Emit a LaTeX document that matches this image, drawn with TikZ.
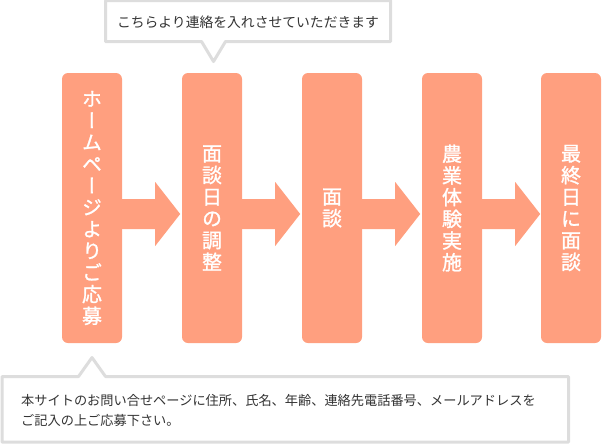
\documentclass[tikz,border=0pt]{standalone}
\usepackage{fontspec}
\setmainfont{Noto Sans CJK JP}
\newfontfamily\stepfont[RawFeature=+vert,FakeBold=1.2]{Noto Sans CJK JP}
\usepackage{tkz-euclide}
\usetikzlibrary{calc}
\definecolor{StepClr}{RGB}{255,159,127}
\definecolor{FrameClr}{RGB}{221,221,221}
\definecolor{NoteClr}{RGB}{51,51,51}
\tikzset{
  stepbox/.style={fill=StepClr,rounded corners=6pt,minimum width=60pt,minimum height=270pt,
    inner sep=0pt,text=white,align=center,font=\stepfont\fontsize{20}{21.7}\selectfont},
  notetext/.style={text=NoteClr,inner sep=0pt,align=left}
}

\begin{document}
\begin{tikzpicture}[x=1pt,y=-1pt]
\useasboundingbox (0,0) rectangle (602,445);
\tkzSetUpLine[line width=3pt,color=FrameClr]

\node[stepbox] (s1) at (92,208) {ホ\\ー\\ム\\ペ\\ー\\ジ\\よ\\り\\ご\\応\\募};
\node[stepbox] (s2) at (212,208) {面\\談\\日\\の\\調\\整};
\node[stepbox] (s3) at (332,208) {面\\談};
\node[stepbox] (s4) at (452,208) {農\\業\\体\\験\\実\\施};
\node[stepbox] (s5) at (571,208) {最\\終\\日\\に\\面\\談};

\foreach \a in {s1,s2,s3,s4}
  \fill[StepClr] ($(\a.east)+(-1,-9)$) -- ++(34,0) -- ++(0,-17) -- ($(\a.east)+(58,6)$)
    -- ($(\a.east)+(33,38)$) -- ++(0,-17) -- ($(\a.east)+(-1,21)$) -- cycle;

\tkzDefPoints{105.5/0.5/A,390.5/0.5/B,390.5/41.5/C,225.5/41.5/D,213.5/61.5/E,201.5/41.5/F,105.5/41.5/G}
\tkzFillPolygon[fill=white](A,B,C,D,E,F,G)
\tkzDrawPolygon(A,B,C,D,E,F,G)
\node[notetext,font=\fontsize{13.8}{16}\selectfont] (call) at (248,22) {こちらより連絡を入れさせていただきます};

\tkzDefPoints{2/376.5/P,78.5/376.5/Q,92/357.5/R,105.5/376.5/S,568.5/376.5/T,568.5/442/U,2/442/V}
\tkzFillPolygon[fill=white](P,Q,R,S,T,U,V)
\tkzDrawPolygon(P,Q,R,S,T,U,V)
\node[notetext,anchor=west,font=\fontsize{13.2}{20}\selectfont] (form) at (21,410)
  {本サイトのお問い合せページに住所、氏名、年齢、連絡先電話番号、メールアドレスを\\ご記入の上ご応募下さい。};

\end{tikzpicture}
\end{document}
